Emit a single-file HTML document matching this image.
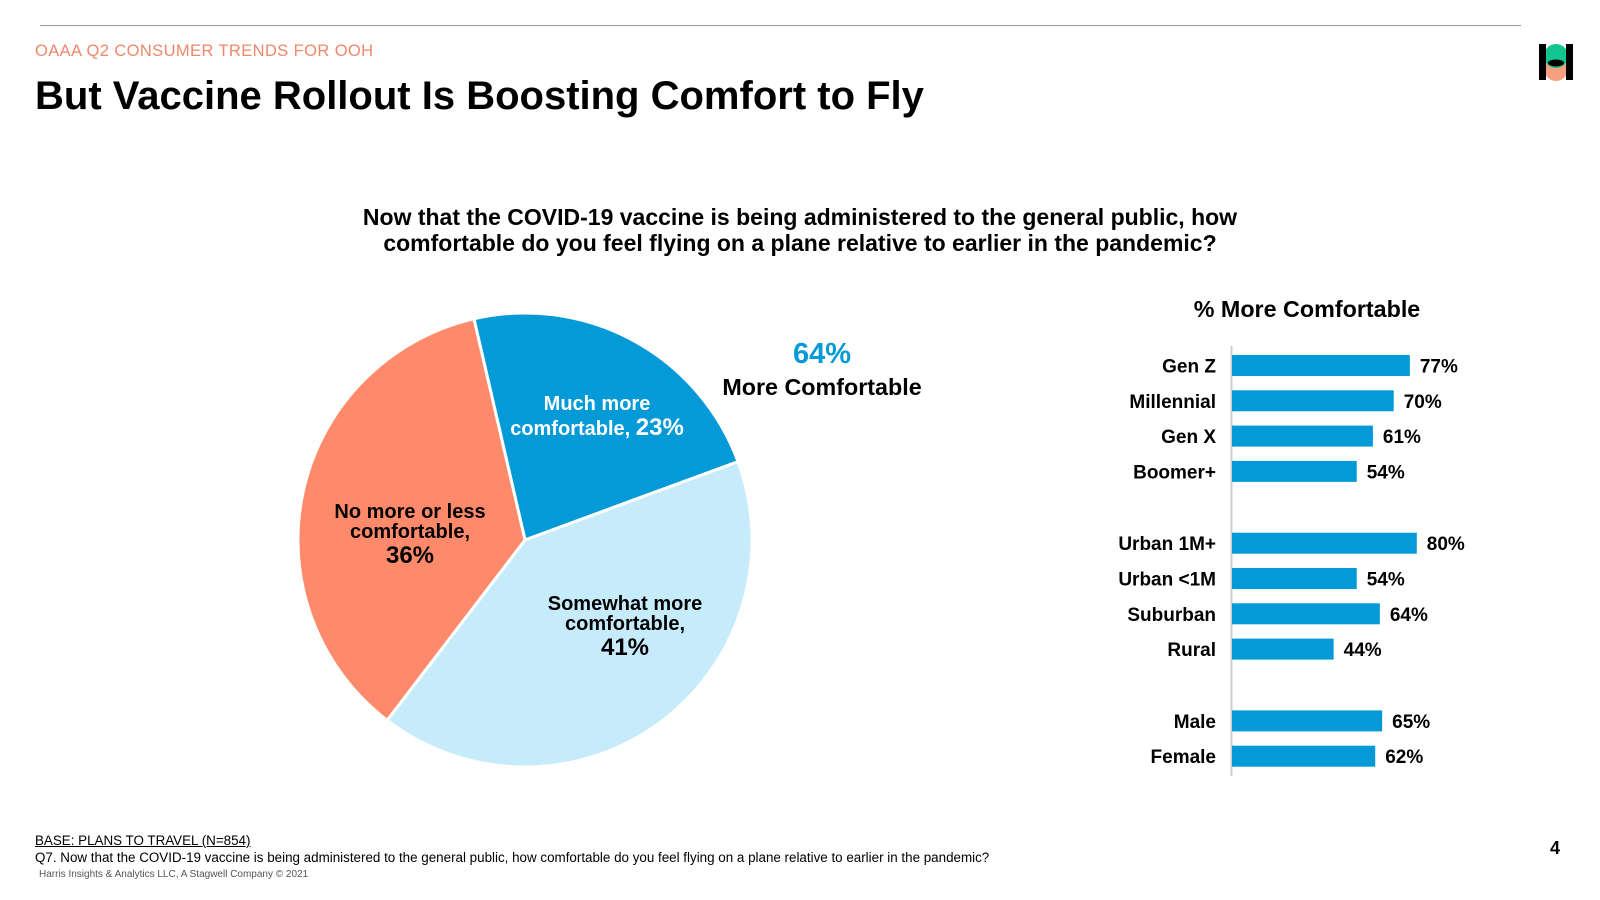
<!DOCTYPE html>
<html><head><meta charset="utf-8"><style>
body{margin:0;width:1600px;height:900px;background:#fff;font-family:"Liberation Sans",Arial,sans-serif;overflow:hidden;position:relative}
.a{position:absolute;white-space:nowrap}
</style></head><body>
<div class="a" style="left:40px;top:25px;width:1481px;height:1px;background:#999"></div>
<div class="a" style="left:35px;top:42px;font-size:16.5px;letter-spacing:0.4px;color:#F0876A">OAAA Q2 CONSUMER TRENDS FOR OOH</div>
<div class="a" style="left:35px;top:74px;font-size:40px;font-weight:bold;color:#000">But Vaccine Rollout Is Boosting Comfort to Fly</div>
<svg class="a" style="left:1536px;top:42px" width="40" height="40" viewBox="0 0 40 40">
<circle cx="20" cy="27" r="12" fill="#F5A07E"/><circle cx="20" cy="14" r="12" fill="#12C58F"/><ellipse cx="20" cy="21" rx="8" ry="3.5" fill="#000"/>
<rect x="3" y="2" width="7" height="36" fill="#000"/><rect x="30" y="2" width="7" height="36" fill="#000"/></svg>
<div class="a" style="left:0;width:1600px;top:204px;text-align:center;font-size:23px;font-weight:bold;line-height:26px;white-space:normal">Now that the COVID-19 vaccine is being administered to the general public, how<br>comfortable do you feel flying on a plane relative to earlier in the pandemic?</div>

<svg class="a" id="pie" style="left:0;top:0" width="1600" height="900"></svg>
<div class="a" style="left:722px;width:200px;text-align:center;top:338px;font-size:29px;font-weight:bold;color:#0499D7">64%</div>
<div class="a" style="left:722px;width:200px;text-align:center;top:374px;font-size:23.3px;font-weight:bold">More Comfortable</div>

<div class="a" style="left:1157px;width:300px;text-align:center;top:296px;font-size:23.3px;font-weight:bold">% More Comfortable</div>
<svg class="a" id="bars" style="left:0;top:0" width="1600" height="900"></svg>

<div class="a" style="left:35px;top:833px;font-size:13.4px;text-decoration:underline">BASE: PLANS TO TRAVEL (N=854)</div>
<div class="a" style="left:35px;top:850px;font-size:13.4px">Q7. Now that the COVID-19 vaccine is being administered to the general public, how comfortable do you feel flying on a plane relative to earlier in the pandemic?</div>
<div class="a" style="left:39px;top:869px;font-size:10px;color:#555">Harris Insights &amp; Analytics LLC, A Stagwell Company © 2021</div>
<div class="a" style="left:1550px;top:838px;font-size:18px;font-weight:bold">4</div>

<script>
const pieLabels=["Much more comfortable","Somewhat more comfortable","No more or less comfortable"];
const pieValues=[23,41,36];
const pieColors=["#0499D7","#C6ECFB","#FF8A6B"];
const barCategories=["Gen Z","Millennial","Gen X","Boomer+","Urban 1M+","Urban <1M","Suburban","Rural","Male","Female"];
const barValues=[77,70,61,54,80,54,64,44,65,62];
const barGroups=[0,0,0,0,1,1,1,1,2,2];
const NS="http://www.w3.org/2000/svg";
function mk(t,p,a){const e=document.createElementNS(NS,t);for(const k in a)e.setAttribute(k,a[k]);p.appendChild(e);return e;}
const pie=document.getElementById('pie');
const cx=525,cy=540,r=227,start=-13;
const total=pieValues.reduce((a,b)=>a+b,0);
function pt(deg,rr){const t=deg*Math.PI/180;return [cx+rr*Math.sin(t),cy-rr*Math.cos(t)];}
let ang=start;
pieValues.forEach((v,i)=>{
  const sweep=v/total*360;const a0=ang,a1=ang+sweep;
  const p0=pt(a0,r),p1=pt(a1,r);
  const path=mk('path',pie,{d:`M${cx},${cy} L${p0[0]},${p0[1]} A${r},${r} 0 ${sweep>180?1:0} 1 ${p1[0]},${p1[1]} Z`,fill:pieColors[i],stroke:'#fff','stroke-width':3});
  
  
  ang=a1;
});
function txt(p,x,y,s,size,fill,name){const t=mk('text',p,{x,y,'font-size':size,'font-weight':'bold',fill,'text-anchor':'middle','font-family':'Liberation Sans, Arial, sans-serif'});t.textContent=s;return t;}
txt(pie,597,410,'Much more','20px','#fff','label-much-more');
const l0b=mk('text',pie,{x:597,y:435,'font-size':'20px','font-weight':'bold',fill:'#fff','text-anchor':'middle'});


l0b.innerHTML='comfortable, <tspan font-size="24px">'+pieValues[0]+'%</tspan>';
txt(pie,410,518,'No more or less','20px','#000','label-no-more-1');
txt(pie,410,538,'comfortable,','20px','#000','label-no-more-2');
txt(pie,410,563,pieValues[2]+'%','24px','#000','label-no-more-value');
txt(pie,625,610,'Somewhat more','20px','#000','label-somewhat-1');
txt(pie,625,630,'comfortable,','20px','#000','label-somewhat-2');
txt(pie,625,655,pieValues[1]+'%','24px','#000','label-somewhat-value');
const bars=document.getElementById('bars');
const x0=1232,scale=2.31,bh=21,rowH=35.3,groupGap=36.5,top0=355;
function yOf(i){return top0+i*rowH+barGroups[i]*groupGap;}
const axis=mk('line',bars,{x1:x0-0.5,x2:x0-0.5,y1:346,y2:776,stroke:'#ccc','stroke-width':2});


barCategories.forEach((c,i)=>{
  const y=yOf(i),w=barValues[i]*scale;
  const b=mk('rect',bars,{x:x0,y,width:w,height:bh,fill:'#0499D7'});
  
  
  const lab=mk('text',bars,{x:1216,y:y+bh/2+7,'font-size':'19px','font-weight':'bold','text-anchor':'end'});
  lab.textContent=c;
  
  
  const val=mk('text',bars,{x:x0+w+10,y:y+bh/2+7,'font-size':'19px','font-weight':'bold'});
  val.textContent=barValues[i]+'%';
  
  
});
</script>
</body></html>
